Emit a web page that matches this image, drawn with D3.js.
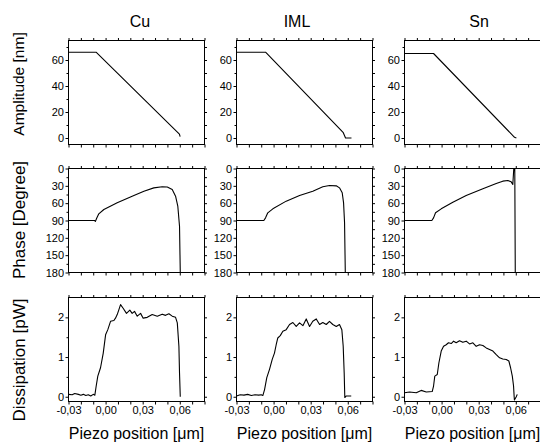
<!DOCTYPE html>
<html>
<head>
<meta charset="utf-8">
<script src="https://cdn.jsdelivr.net/npm/d3@7"></script>
<style>
  body { margin: 0; background: #fff; }
  text { font-family: Arial, "Liberation Sans", sans-serif; fill: #000; }
</style>
</head>
<body>
<svg id="chart" width="540" height="443"></svg>
<script>
// materials (columns) and axis ticks
var materials = ["Cu", "IML", "Sn"];
var xDomain = [-0.03, 0.08];
var xTicks = [-0.03, 0, 0.03, 0.06];
var xMinorTicks = [-0.02, -0.01, 0.01, 0.02, 0.04, 0.05, 0.07, 0.08];
var amplitudeTicks = [0, 20, 40, 60];
var amplitudeMinor = [10, 30, 50, 70];
var phaseTicks = [0, 30, 60, 90, 120, 150, 180];
var phaseMinor = [15, 45, 75, 105, 135, 165];
var dissipationTicks = [0, 1, 2];
var dissipationMinor = [0.5, 1.5];

// amplitude [nm] vs piezo position [um]
var cuAmplitude = [[-0.03,66],[-0.0077,66],[0.0597,3],[0.0603,1]];
var imlAmplitude = [[-0.03,66],[-0.0065,66],[0.0562,4.4],[0.0582,0],[0.063,0]];
var snAmplitude = [[-0.03,65],[-0.0065,65],[0.059,0.5],[0.0605,0]];

// phase [degree]
var cuPhase = [[-0.03,90],[-0.009,90],[-0.0082,91.5],[-0.0073,86.5],[-0.0055,78.5],[-0.0014,71],
  [0.0094,59.4],[0.0229,46.7],[0.031,39.2],[0.039,33.5],[0.0458,31.7],[0.0499,32],[0.0539,36.3],
  [0.0566,48],[0.0584,65],[0.0598,100],[0.0604,180]];
var imlPhase = [[-0.03,90],[-0.0079,90],[-0.0065,85.4],[-0.0047,76.7],[-0.0006,69.8],[0.0102,56.5],
  [0.021,46.7],[0.0317,39.2],[0.0398,31.7],[0.0452,29.4],[0.0507,30],[0.0533,33.5],[0.0555,42],
  [0.0566,59.5],[0.0574,94],[0.058,180]];
var snPhase = [[-0.03,90],[-0.0079,90],[-0.0065,85.4],[-0.0049,76.7],[-0.0003,69.8],[0.0091,58.3],
  [0.0199,46.7],[0.0334,35.2],[0.0442,26],[0.0495,21.9],[0.0536,20.8],[0.0563,23.1],[0.0576,27.7],
  [0.0584,0],[0.0592,0],[0.0596,180]];

// dissipation [pW]
var cuDissipation = [[-0.03,0.06],[-0.027,0.05],[-0.025,0.08],[-0.022,0.06],[-0.02,0.04],[-0.018,0.06],
  [-0.016,0.03],[-0.014,0.05],[-0.012,0.02],[-0.01,0.06],[-0.0087,0.04],[-0.0076,0.27],[-0.0063,0.52],
  [-0.0041,0.73],[-0.0019,1.1],[0,1.56],[0.0018,1.69],[0.004,1.9],[0.0067,1.92],[0.008,1.98],
  [0.0094,2.07],[0.0107,2.19],[0.0121,2.32],[0.0142,2.23],[0.0169,2.1],[0.0196,2.18],[0.0215,2.1],
  [0.0234,2.15],[0.0256,2.03],[0.0283,2.1],[0.0304,1.98],[0.0337,2.0],[0.0377,2.07],[0.0418,2.03],
  [0.0458,2.08],[0.0485,2.05],[0.0512,2.09],[0.0539,2.03],[0.0566,2.0],[0.058,1.86],[0.0593,1.27],
  [0.0598,0.6],[0.0604,0]];
var imlDissipation = [[-0.03,0.02],[-0.027,0.05],[-0.024,0.04],[-0.021,0.06],[-0.018,0.03],[-0.015,0.05],
  [-0.012,0.04],[-0.01,0.05],[-0.0087,0.03],[-0.0073,0.18],[-0.0055,0.48],[-0.0033,0.69],[-0.0011,0.94],
  [0.0007,1.1],[0.0021,1.31],[0.0034,1.48],[0.0054,1.54],[0.0075,1.65],[0.0102,1.69],[0.0129,1.82],
  [0.0156,1.87],[0.0183,1.77],[0.021,1.86],[0.0237,1.79],[0.0264,1.96],[0.0291,1.77],[0.0317,1.9],
  [0.0345,1.96],[0.0372,1.82],[0.0398,1.87],[0.0426,1.82],[0.0452,1.9],[0.0479,1.82],[0.0507,1.77],
  [0.0533,1.82],[0.0552,1.69],[0.0563,1.27],[0.0571,0.6],[0.0576,-0.02],[0.0588,0.02],[0.0628,0.02]];
var snDissipation = [[-0.03,0.1],[-0.0259,0.12],[-0.0205,0.1],[-0.0165,0.16],[-0.0124,0.12],[-0.0076,0.13],
  [-0.0065,0.27],[-0.0055,0.52],[-0.0035,0.56],[-0.0022,0.85],[-0.0003,1.15],[0.0016,1.27],[0.0037,1.31],
  [0.0056,1.36],[0.0078,1.34],[0.0097,1.4],[0.0118,1.36],[0.0145,1.41],[0.0172,1.37],[0.0199,1.4],
  [0.0226,1.33],[0.0253,1.36],[0.028,1.27],[0.0307,1.31],[0.0334,1.29],[0.0361,1.23],[0.0388,1.19],
  [0.0415,1.15],[0.0442,1.06],[0.0469,0.98],[0.0495,0.95],[0.0523,0.94],[0.0544,0.9],[0.0558,0.73],
  [0.0572,0.52],[0.0582,0.27],[0.0587,0],[0.0589,-0.08],[0.0604,0],[0.0612,0.06]];

var rows = [
  { label: "Amplitude [nm]", size: 15.5, ly: 84, domain: [-5, 75], ticks: amplitudeTicks, minor: amplitudeMinor,
    series: [cuAmplitude, imlAmplitude, snAmplitude] },
  { label: "Phase [Degree]", size: 17, ly: 220, domain: [180, 0], ticks: phaseTicks, minor: phaseMinor,
    series: [cuPhase, imlPhase, snPhase] },
  { label: "Dissipation [pW]", size: 17, ly: 360, domain: [-0.12, 2.5], ticks: dissipationTicks, minor: dissipationMinor,
    series: [cuDissipation, imlDissipation, snDissipation] }
];

var colLeft = [68.5, 236.5, 404.5];
var rowTop = [40.5, 168.5, 297.5];
var titleX = [140, 297, 479];
var pw = 136, ph = 104;

var locale = d3.formatLocale({ decimal: ",", thousands: ".", grouping: [3], currency: ["", ""], minus: "-" });
var xFormat = locale.format(".2f");

var svg = d3.select("#chart");

var line = d3.line();

rows.forEach(function(row, r) {
	// y axis label
	svg.append("text")
	    .attr("transform", "translate(19," + row.ly + ") rotate(-90)")
	    .attr("text-anchor", "middle")
	    .attr("dy", "0.35em")
	    .style("font-size", row.size + "px")
	    .text(row.label);

	materials.forEach(function(m, c) {
		var x = d3.scaleLinear().domain(xDomain).range([0, pw]);
		var y = d3.scaleLinear().domain(row.domain).range([ph, 0]);

		var g = svg.append("g")
		    .attr("transform", "translate(" + colLeft[c] + "," + rowTop[r] + ")");

		// axes: labelled on left/bottom, mirrored ticks top/right
		var axes = [
			{ a: d3.axisLeft(y).tickValues(row.ticks).tickFormat(d3.format("d")), t: "" , lab: true},
			{ a: d3.axisLeft(y).tickValues(row.minor).tickFormat(""), t: "", size: 2 },
			{ a: d3.axisRight(y).tickValues(row.ticks.concat(row.minor)).tickFormat(""), t: "translate(" + pw + ",0)", size: 2.5 },
			{ a: d3.axisBottom(x).tickValues(r == 2 ? xTicks : []).tickFormat(xFormat), t: "translate(0," + ph + ")", lab: true },
			{ a: d3.axisBottom(x).tickValues(r == 2 ? xMinorTicks : xTicks.concat(xMinorTicks)).tickFormat(""), t: "translate(0," + ph + ")" },
			{ a: d3.axisTop(x).tickValues(xTicks.concat(xMinorTicks)).tickFormat(""), t: "", size: 2.5 }
		];

		axes.forEach(function(ax) {
			ax.a.tickSizeOuter(0).tickSizeInner(ax.size || 3).tickPadding(1.5);
			var ag = g.append("g").attr("transform", ax.t).call(ax.a);
			ag.select(".domain").remove();
			ag.selectAll("line").attr("stroke", "#000");
			ag.selectAll("text")
			    .style("font-size", "11px")
			    .style("font-family", "Arial, 'Liberation Sans', sans-serif")
			    .attr("fill", "#000");
		});

		g.append("rect")
		    .attr("width", pw)
		    .attr("height", ph)
		    .attr("fill", "none")
		    .attr("stroke", "#000")
		    .attr("stroke-width", 1);

		line.x(function(d) { return x(d[0]); })
		    .y(function(d) { return y(d[1]); });

		g.append("path")
		    .datum(row.series[c])
		    .attr("d", line)
		    .attr("fill", "none")
		    .attr("stroke", "#000")
		    .attr("stroke-width", 1.1)
		    .attr("stroke-linejoin", "round");

		if (r == 0) {
			svg.append("text")
			    .attr("x", titleX[c])
			    .attr("y", 27)
			    .attr("text-anchor", "middle")
			    .style("font-size", "16px")
			    .text(m);
		}
		if (r == 2) {
			svg.append("text")
			    .attr("x", colLeft[c] + pw / 2)
			    .attr("y", 439)
			    .attr("text-anchor", "middle")
			    .style("font-size", "16px")
			    .text("Piezo position [\u03bcm]");
		}
	});
});
</script>
</body>
</html>
